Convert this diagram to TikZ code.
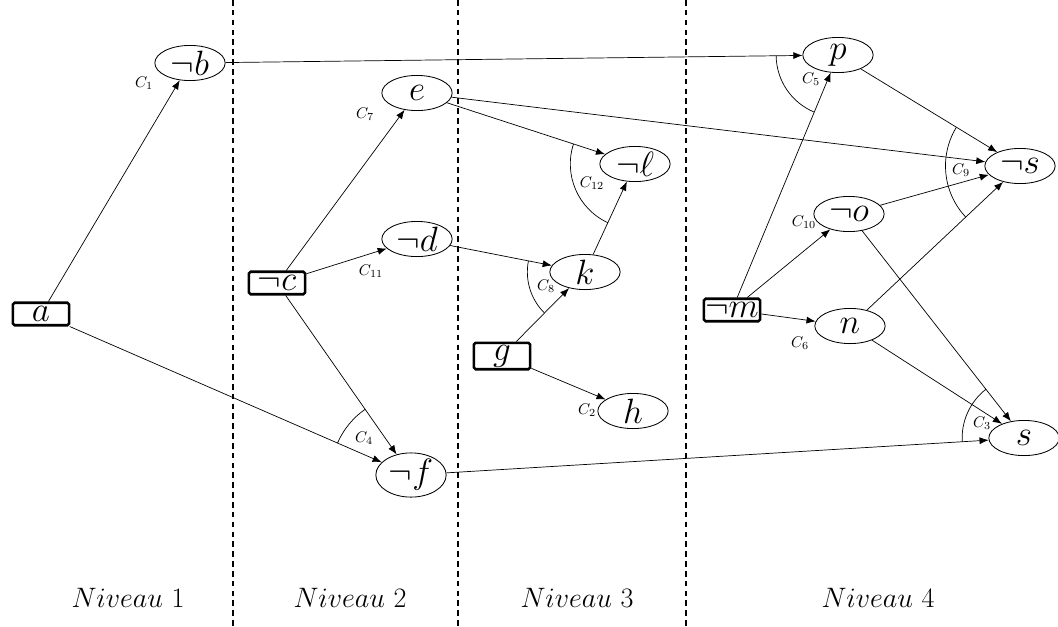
\RequirePackage{fix-cm}
\documentclass[tikz,border=0pt]{standalone}
\usetikzlibrary{shapes.geometric,arrows.meta,calc,shadows}
\begin{document}
\begin{tikzpicture}[x=0.025cm,y=-0.025cm,
  every node/.style={font=\fontsize{25}{30}\selectfont},
  lit/.style={draw,ellipse,line width=0.6pt,minimum width=50pt,minimum height=25pt,inner sep=0pt},
  fact/.style={draw,rectangle,line width=1.8pt,rounded corners=1.2pt,minimum width=40pt,minimum height=16pt,inner xsep=0.5pt,inner ysep=1.6pt,fill=white,
    drop shadow={shadow xshift=0.5pt,shadow yshift=-0.5pt,fill=black!45}},
  edge/.style={line width=0.5pt,-{Latex[length=6.5pt,width=5pt]}},
  carc/.style={line width=0.5pt},
  clab/.style={font=\fontsize{11}{13}\selectfont},
  sep/.style={line width=0.9pt,dash pattern=on 4pt off 3pt},
  lvl/.style={font=\fontsize{20}{24}\selectfont}]
\useasboundingbox (0,0) rectangle (1058,626);
% separators
\draw[sep] (233,0) -- (233,626);
\draw[sep] (458,0) -- (458,626);
\draw[sep] (686,0) -- (686,626);
% nodes
\node[fact] (a) at (41,314) {$a$};
\node[lit] (nb) at (190,63) {$\neg b$};
\node[fact] (nc) at (277,283) {$\neg c$};
\node[lit] (e) at (417,93) {$e$};
\node[lit] (nd) at (417,239) {$\neg d$};
\node[lit] (nf) at (411,475) {$\neg f$};
\node[lit] (nl) at (635,164) {$\neg \ell$};
\node[lit] (k) at (585,272) {$k$};
\node[fact] (g) at (502,356) {$g$};
\node[lit] (h) at (633,411) {$h$};
\node[fact] (nm) at (732,310) {$\neg m$};
\node[lit] (p) at (838,55) {$p$};
\node[lit] (ns) at (1020,166) {$\neg s$};
\node[lit] (no) at (849,214) {$\neg o$};
\node[lit] (n) at (850,326) {$n$};
\node[lit] (s) at (1024,438) {$s$};
% edges
\draw[edge] (a) -- (nb);
\draw[edge] (a) -- (nf);
\draw[edge] (nb) -- (p);
\draw[edge] (nc) -- (e);
\draw[edge] (nc) -- (nd);
\draw[edge] (nc) -- (nf);
\draw[edge] (e) -- (nl);
\draw[edge] (e) -- (ns);
\draw[edge] (nd) -- (k);
\draw[edge] (k) -- (nl);
\draw[edge] (g) -- (k);
\draw[edge] (g) -- (h);
\draw[edge] (nm) -- (p);
\draw[edge] (nm) -- (no);
\draw[edge] (nm) -- (n);
\draw[edge] (p) -- (ns);
\draw[edge] (no) -- (ns);
\draw[edge] (no) -- (s);
\draw[edge] (n) -- (ns);
\draw[edge] (n) -- (s);
\draw[edge] (nf) -- (s);
% conjunction arcs
\newcommand{\conjarc}[4]{%
  \draw[carc] let \p1=($(#2)-(#1)$), \p2=($(#3)-(#1)$),
    \n1={mod(atan2(\y1,\x1)+360,360)}, \n2={mod(atan2(\y2,\x2)+360,360)} in
    ($(#1)+(\n1:#4)$) arc[start angle=\n1, end angle=\n2, radius=#4];}
\conjarc{nf}{a}{nc}{57pt}
\conjarc{k}{nd}{g}{41pt}
\conjarc{nl}{e}{k}{46pt}
\conjarc{p}{nb}{nm}{44pt}
\conjarc{ns}{p}{n}{53pt}
\conjarc{s}{no}{nf}{44pt}
% clause labels
\node[clab] (c1) at (144,83) {$C_1$};
\node[clab] (c7) at (365,114) {$C_7$};
\node[clab] (c11) at (371,271) {$C_{11}$};
\node[clab] (c4) at (364,438) {$C_4$};
\node[clab] (c8) at (546,286) {$C_8$};
\node[clab] (c12) at (592,183) {$C_{12}$};
\node[clab] (c2) at (587,410) {$C_2$};
\node[clab] (c5) at (811,79) {$C_5$};
\node[clab] (c9) at (961,170) {$C_9$};
\node[clab] (c10) at (804,222) {$C_{10}$};
\node[clab] (c6) at (800,343) {$C_6$};
\node[clab] (c3) at (982,423) {$C_3$};
% level labels
\node[lvl] (l1) at (128,598) {$Niveau$ 1};
\node[lvl] (l2) at (350,598) {$Niveau$ 2};
\node[lvl] (l3) at (577,598) {$Niveau$ 3};
\node[lvl] (l4) at (878,598) {$Niveau$ 4};
\end{tikzpicture}
\end{document}
